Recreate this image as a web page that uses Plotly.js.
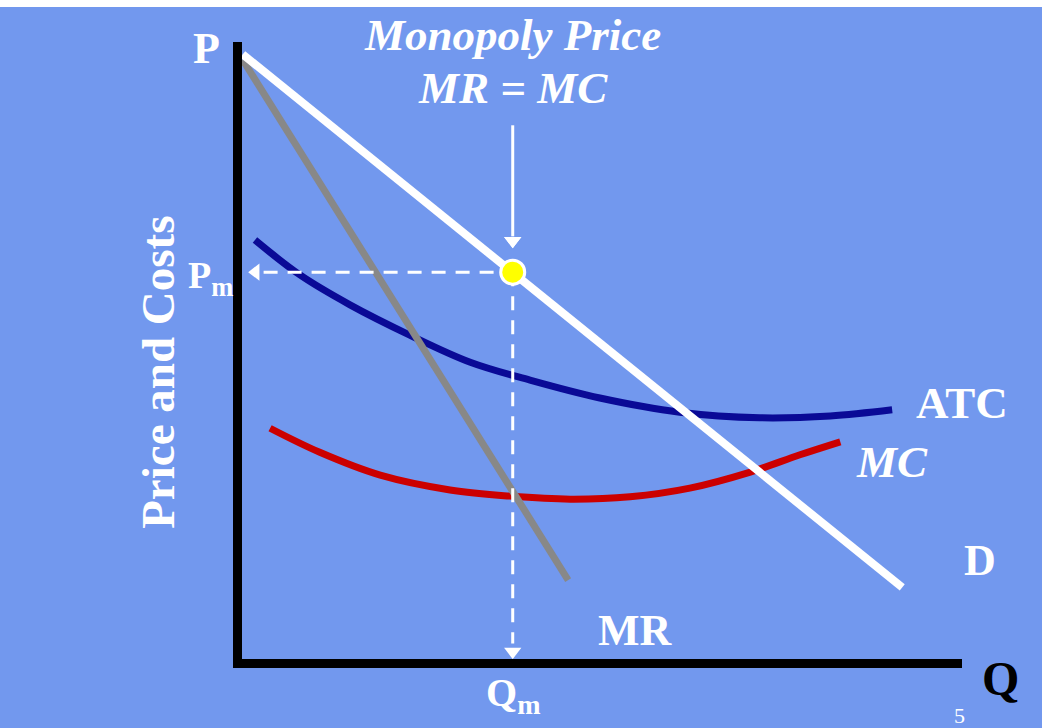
<!DOCTYPE html>
<html>
<head>
<meta charset="utf-8">
<script src="https://cdn.plot.ly/plotly-3.0.1.min.js"></script>
<style>
  html, body { margin: 0; padding: 0; background: #ffffff; }
  #chart { position: absolute; left: 0; top: 7px; width: 1042px; height: 721px; }
</style>
</head>
<body>
<div id="chart"></div>
<script>
// Quantity (Q) and price/cost (P) values, in chart units 0..10
const demandQ = [0.01, 9.17];
const demandP = [9.80, 1.16];

const mrQ = [0.01, 4.53];
const mrP = [9.71, 1.28];

const atcQ = [0.18, 0.81, 1.50, 2.33, 3.17, 4.00, 4.97, 6.08, 7.19, 8.17, 9.03];
const atcP = [6.79, 6.22, 5.74, 5.25, 4.81, 4.52, 4.23, 4.00, 3.91, 3.94, 4.04];

const mcQ = [0.39, 1.08, 1.92, 2.89, 3.72, 4.56, 5.39, 6.22, 7.06, 7.75, 8.31];
const mcP = [3.74, 3.35, 2.98, 2.74, 2.64, 2.59, 2.63, 2.77, 3.03, 3.31, 3.52];

const qm = 3.76;   // monopoly quantity
const pm = 6.27;   // monopoly price

const curveLabels = ["D", "MR", "ATC", "MC"];
const titleLines = ["Monopoly Price", "MR = MC"];
const axisLabels = {y: "Price and Costs", p: "P", q: "Q", pm: "P<sub>m</sub>", qm: "Q<sub>m</sub>"};
const pageNumber = "5";

const serif = '"Liberation Serif", "Times New Roman", serif';
const white = '#ffffff';
const XMAX = 10, YMAX = 10;

const traces = [
  {x: atcQ, y: atcP, mode: 'lines', line: {color: '#0a0a96', width: 7, shape: 'spline', smoothing: 1}, hoverinfo: 'skip'},
  {x: mcQ, y: mcP, mode: 'lines', line: {color: '#cc0000', width: 7, shape: 'spline', smoothing: 1}, hoverinfo: 'skip'},
  {x: mrQ, y: mrP, mode: 'lines', line: {color: '#888888', width: 7}, hoverinfo: 'skip'},
  {x: demandQ, y: demandP, mode: 'lines', line: {color: white, width: 8}, hoverinfo: 'skip'},
  // dashed guides
  {x: [0.3, qm], y: [pm, pm], mode: 'lines', line: {color: white, width: 3, dash: '14px,10px'}, hoverinfo: 'skip'},
  {x: [qm, qm], y: [pm, 0.25], mode: 'lines', line: {color: white, width: 3, dash: '14px,10px'}, hoverinfo: 'skip'},
  // solid pointer from the title
  {x: [qm, qm], y: [8.65, 6.85], mode: 'lines', line: {color: white, width: 3}, hoverinfo: 'skip'},
  // arrow heads
  {x: [0.19], y: [pm], mode: 'markers', marker: {symbol: 'triangle-left', color: white, size: 15}, hoverinfo: 'skip'},
  {x: [qm], y: [0.12], mode: 'markers', marker: {symbol: 'triangle-down', color: white, size: 15}, hoverinfo: 'skip'},
  {x: [qm, qm], y: [6.78, 6.78], mode: 'markers', marker: {symbol: 'triangle-down', color: white, size: 15}, hoverinfo: 'skip'},
  // equilibrium point
  {x: [qm], y: [pm], mode: 'markers', marker: {color: '#ffff00', size: 24, line: {color: white, width: 3}}, hoverinfo: 'skip'}
];

// labels placed in paper units derived from chart units (they sit outside the axes)
function txt(x, y, text, size, color, opts) {
  return Object.assign({x: x / XMAX, y: y / YMAX, xref: 'paper', yref: 'paper',
    xanchor: 'center', yanchor: 'middle', text: text, showarrow: false,
    font: {family: serif, size: size, color: color || white}}, opts || {});
}

const annotations = [
  txt(-0.50, 9.89, '<b>' + axisLabels.p + '</b>', 44),
  txt(-0.44, 6.17, '<b>' + axisLabels.pm + '</b>', 38),
  txt(-1.17, 4.65, '<b>' + axisLabels.y + '</b>', 47, null, {textangle: -90}),
  txt(3.76, 10.11, '<b><i>' + titleLines[0] + '</i></b>', 45),
  txt(3.76, 9.25, '<b><i>' + titleLines[1] + '</i></b>', 45),
  txt(10.0, 4.15, '<b>' + curveLabels[2] + '</b>', 45),
  txt(9.03, 3.19, '<b><i>' + curveLabels[3] + '</i></b>', 45),
  txt(10.25, 1.60, '<b>' + curveLabels[0] + '</b>', 44),
  txt(5.47, 0.47, '<b>' + curveLabels[1] + '</b>', 44),
  txt(10.53, -0.31, '<b>' + axisLabels.q + '</b>', 48, '#000000'),
  txt(3.76, -0.58, '<b>' + axisLabels.qm + '</b>', 40),
  txt(9.97, -0.91, pageNumber, 22)
];

const layout = {
  width: 1042, height: 721,
  margin: {l: 242, r: 80, t: 35, b: 69},
  paper_bgcolor: '#7298ee',
  plot_bgcolor: '#7298ee',
  showlegend: false,
  xaxis: {range: [0, XMAX], showgrid: false, zeroline: false, showticklabels: false, ticks: '',
          showline: true, linecolor: '#000000', linewidth: 9, fixedrange: true},
  yaxis: {range: [0, YMAX], showgrid: false, zeroline: false, showticklabels: false, ticks: '',
          showline: true, linecolor: '#000000', linewidth: 9, fixedrange: true},
  annotations: annotations
};

Plotly.newPlot('chart', traces, layout, {displayModeBar: false, staticPlot: true});
</script>
</body>
</html>
